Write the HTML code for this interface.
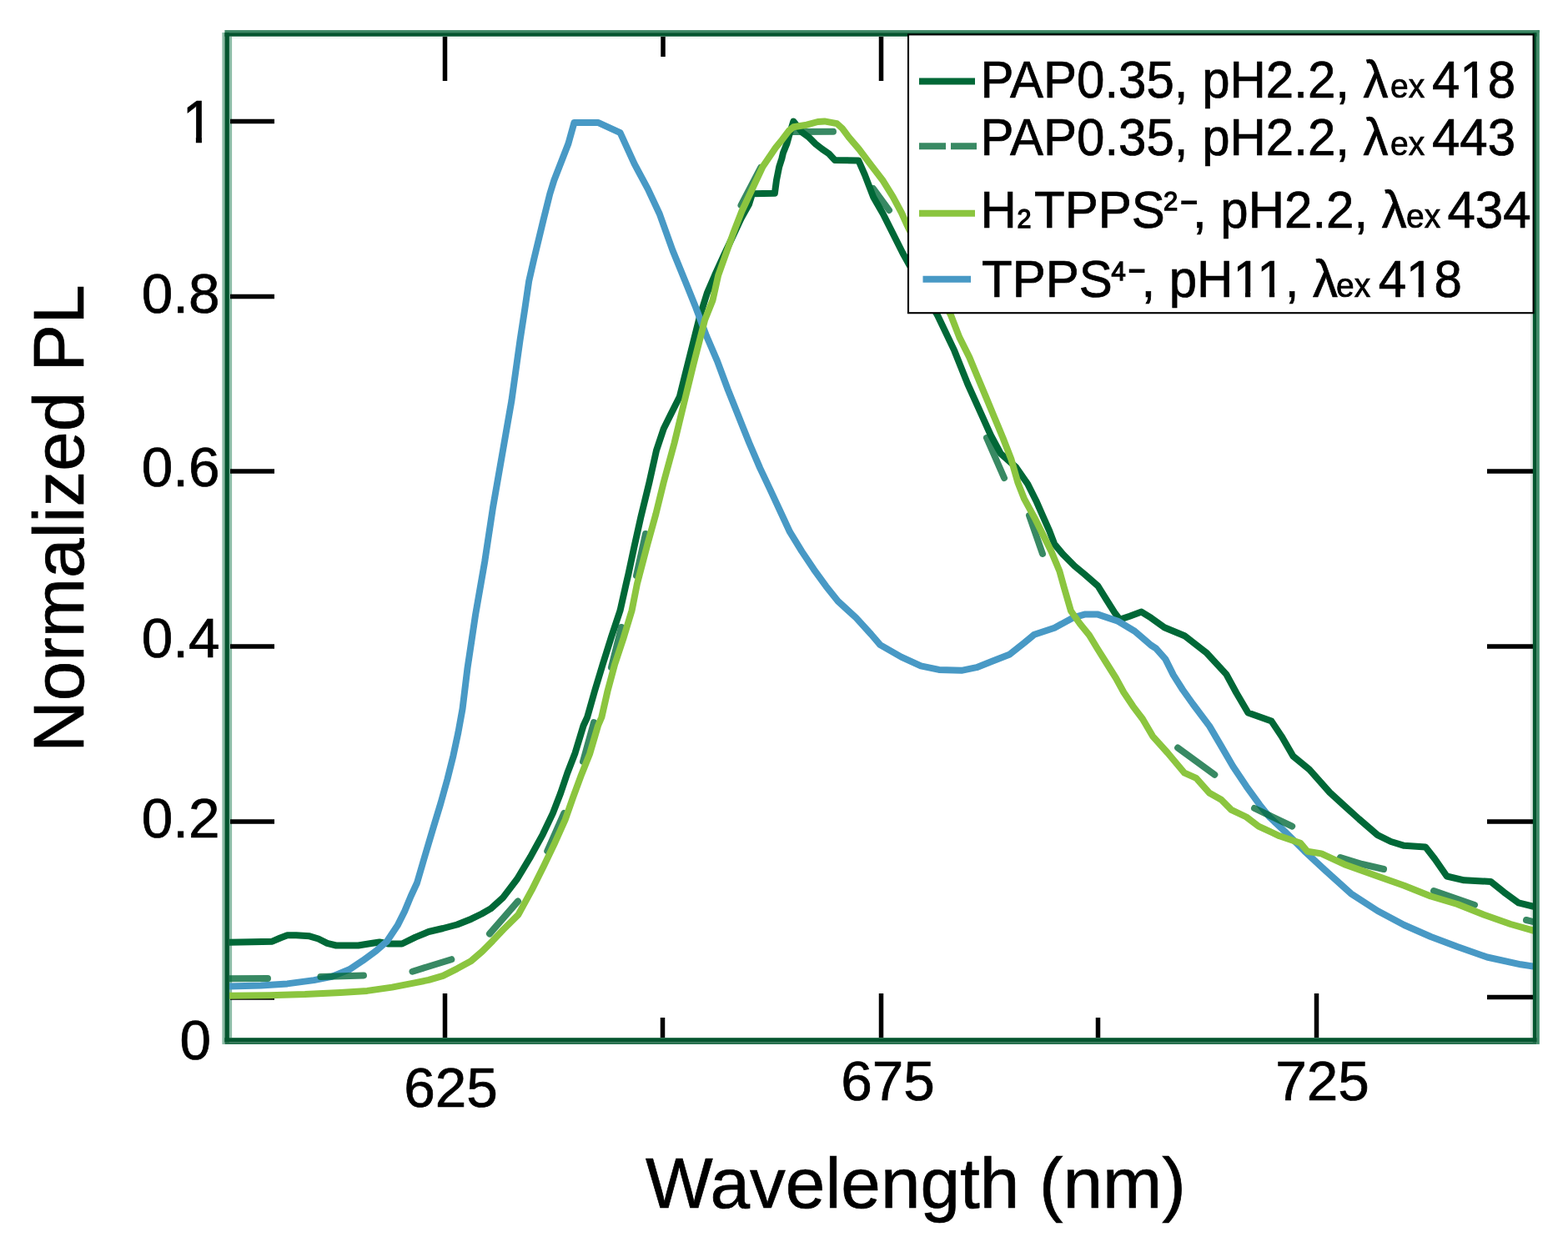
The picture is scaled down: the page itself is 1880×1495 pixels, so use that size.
<!DOCTYPE html>
<html><head><meta charset="utf-8"><title>Normalized PL vs Wavelength</title>
<style>
html,body{margin:0;padding:0;background:#fff;overflow:hidden;}
svg{display:block;filter:blur(0.45px);}
text{font-family:"Liberation Sans",Arial,sans-serif;fill:#000;stroke:#000;stroke-width:0.7px;}
</style></head>
<body>
<svg width="1880" height="1495" viewBox="0 0 1880 1495">
<defs>
<clipPath id="plot"><rect x="275" y="43.5" width="1563" height="1201"/></clipPath>
<clipPath id="cL2"><rect x="-3000.00" y="-3000.00" width="6000.00" height="2994.08"/><rect x="-3000.00" y="2.00" width="6000.00" height="300.00"/><rect x="-3000.00" y="-5.92" width="3036.95" height="7.92"/><rect x="47.93" y="-5.92" width="6.24" height="7.92"/><rect x="65.15" y="-5.92" width="2934.85" height="7.92"/></clipPath>
<clipPath id="cL17"><rect x="-3000.00" y="-3000.00" width="6000.00" height="2994.08"/><rect x="-3000.00" y="2.00" width="6000.00" height="300.00"/><rect x="-3000.00" y="-5.92" width="3113.61" height="7.92"/><rect x="124.59" y="-5.92" width="6.24" height="7.92"/><rect x="141.81" y="-5.92" width="0.71" height="7.92"/><rect x="153.50" y="-5.92" width="6.24" height="7.92"/><rect x="170.72" y="-5.92" width="2829.28" height="7.92"/></clipPath>
<clipPath id="cL19"><rect x="-3000.00" y="-3000.00" width="6000.00" height="2994.08"/><rect x="-3000.00" y="2.00" width="6000.00" height="300.00"/><rect x="-3000.00" y="-5.92" width="3036.95" height="7.92"/><rect x="47.93" y="-5.92" width="6.24" height="7.92"/><rect x="65.15" y="-5.92" width="2934.85" height="7.92"/></clipPath>
<clipPath id="cY0"><rect x="-3000.00" y="-3000.00" width="6000.00" height="2993.39"/><rect x="-3000.00" y="2.00" width="6000.00" height="300.00"/><rect x="-3000.00" y="-6.61" width="3004.05" height="8.61"/><rect x="16.40" y="-6.61" width="7.02" height="8.61"/><rect x="35.77" y="-6.61" width="2964.22" height="8.61"/></clipPath>
</defs>
<rect x="0" y="0" width="1880" height="1495" fill="#fff"/>
<!-- frame halo -->
<g fill="#8cbca6">
<rect x="266.4" y="39" width="3" height="1213"/>
<rect x="274.9" y="43.7" width="3.2" height="1200.5"/>
</g>
<rect x="1835" y="43.7" width="2.8" height="1200.5" fill="#dfe5e2"/>
<rect x="278" y="43.7" width="1557" height="2.5" fill="#eef4f1"/>
<g stroke="#000" stroke-width="5.5" fill="none">
<path d="M276 145.5H329M276 355.5H329M276 565H329M276 775H329M276 985H329M276 1196H329"/>
<path d="M1783 565H1838M1783 775H1838M1783 985H1838M1783 1195.5H1838"/>
<path d="M533.5 44V97M1056.5 44V97M795 44V68M1317.5 44V68"/>
<path d="M533.5 1244V1191M1056.5 1244V1191M1578.5 1244V1191M794.5 1244V1220M1316.5 1244V1220"/>
</g>
<g clip-path="url(#plot)" fill="none" stroke-linejoin="round" stroke-linecap="round" stroke-width="8">
<polyline stroke="#006837" points="270.0,1129.8 301.9,1129.3 326.4,1128.7 336.0,1124.5 344.5,1121.3 355.1,1121.3 371.1,1122.3 381.7,1125.5 392.3,1130.9 403.0,1133.5 429.6,1133.5 445.0,1131.0 455.0,1129.5 466.0,1131.5 482.0,1131.5 498.0,1123.6 514.0,1117.0 531.1,1113.0 548.1,1108.5 565.1,1101.7 577.7,1095.5 588.3,1089.4 602.7,1076.6 620.1,1053.8 636.1,1027.1 650.8,1000.3 662.9,974.9 672.2,950.8 680.3,926.8 689.6,902.7 699.5,870.0 704.1,860.0 713.0,828.5 722.7,796.4 732.8,764.2 743.5,732.1 750.7,700.0 753.5,688.0 760.3,656.2 768.3,620.1 778.5,578.3 787.1,539.7 795.7,514.0 804.2,496.9 814.9,475.5 821.3,449.8 829.9,415.6 838.5,381.3 847.8,351.4 857.0,330.0 867.5,307.0 875.5,290.0 888.5,262.0 898.0,245.0 902.0,232.3 928.9,231.8 931.0,216.0 934.2,200.0 937.4,190.0 939.0,183.2 943.3,172.6 946.0,163.0 951.3,145.6 961.9,158.7 969.9,164.6 977.9,172.6 985.9,178.9 993.8,184.3 1001.0,192.0 1029.4,192.5 1036.8,209.4 1047.0,235.9 1058.8,256.5 1070.6,280.0 1082.4,303.5 1124.2,378.3 1144.3,420.4 1160.3,460.5 1178.4,500.7 1188.0,522.0 1200.0,544.1 1218.1,560.1 1232.2,580.2 1242.2,600.2 1250.2,618.3 1258.2,636.3 1264.3,652.4 1274.3,664.4 1288.3,678.5 1300.4,688.5 1316.4,702.5 1326.4,718.6 1336.5,734.6 1342.5,742.7 1354.5,738.7 1368.6,733.6 1380.0,740.7 1396.1,752.2 1420.2,762.2 1446.2,782.3 1470.3,808.4 1482.3,830.5 1496.4,854.5 1524.5,864.6 1536.5,882.6 1550.5,906.7 1570.0,922.7 1594.3,950.0 1611.8,966.0 1629.4,981.9 1651.7,1001.1 1667.7,1009.0 1683.6,1013.8 1709.1,1015.4 1720.3,1029.8 1734.7,1050.5 1755.4,1055.3 1787.3,1056.9 1803.3,1069.7 1820.8,1082.4 1845.0,1088.5"/>
<polyline stroke="#4899c5" points="270.0,1182.7 312.6,1181.5 344.5,1179.4 376.4,1175.1 397.7,1170.9 418.9,1162.3 434.9,1151.7 450.9,1140.0 463.8,1128.7 476.6,1109.6 485.1,1092.6 492.6,1074.5 500.0,1058.5 508.3,1030.0 518.4,996.0 528.4,963.0 536.4,934.3 543.4,906.2 549.4,878.1 554.5,850.0 560.5,801.0 570.1,736.9 581.3,672.7 591.0,608.5 602.2,544.4 613.4,480.2 623.5,408.0 629.2,370.9 634.2,336.8 640.2,310.7 651.3,264.5 659.3,232.4 664.3,216.3 681.4,172.2 688.4,147.1 717.5,147.1 743.6,159.1 760.6,196.3 776.7,226.4 790.8,256.5 806.4,300.0 821.3,336.4 834.2,368.5 847.0,402.7 859.9,432.7 872.7,467.0 885.5,499.1 898.4,531.2 911.2,561.1 923.5,587.1 936.1,614.2 947.0,637.7 961.4,661.1 975.9,682.8 990.3,702.7 1004.7,720.7 1026.4,740.6 1044.5,760.5 1055.3,773.1 1080.6,787.6 1104.1,798.4 1125.8,802.9 1152.8,803.8 1170.9,800.2 1189.0,793.0 1210.1,784.8 1228.1,770.7 1240.2,760.7 1264.3,752.7 1286.3,740.7 1300.4,736.6 1316.4,736.6 1340.5,744.7 1360.5,756.7 1380.0,773.5 1386.0,777.3 1397.3,790.1 1406.9,809.4 1418.1,827.0 1430.2,844.0 1450.2,870.6 1464.3,894.6 1478.3,918.7 1494.4,942.8 1510.4,964.9 1522.5,979.9 1540.0,996.3 1563.9,1020.2 1587.9,1042.5 1619.8,1071.3 1651.7,1092.0 1683.6,1109.0 1715.5,1123.0 1747.4,1135.0 1783.0,1147.5 1823.4,1156.3 1845.0,1159.5"/>
<path stroke="#006837" stroke-opacity="0.78" d="M262.0,1173.4 L321.0,1173.0 M384.4,1171.0 L436.0,1169.5 M494.5,1164.7 L541.3,1150.2 M587.0,1119.5 L621.0,1080.5 M656.2,1020.4 L676.3,974.9 M699.0,913.0 L712.0,866.0 M733.0,800.0 L745.0,752.0 M763.0,690.0 L774.0,640.0 M888.5,246.0 L912.0,201.0 M950.0,158.0 L999.0,157.8 M1047.0,226.0 L1066.0,252.0 M1183.0,525.0 L1204.0,573.0 M1234.0,618.0 L1250.0,664.0 M1412.1,896.6 L1456.3,928.7 M1504.0,969.0 L1549.2,990.6 M1607.0,1028.0 L1633.0,1036.0 L1659.0,1042.0 M1719.0,1068.0 L1768.0,1085.0 M1830.0,1103.0 L1850.0,1108.0"/>
<polyline stroke="#8bc53f" points="270.0,1193.7 323.2,1193.2 365.7,1192.1 408.3,1190.0 440.2,1187.9 470.0,1183.6 497.0,1178.3 514.0,1174.9 531.1,1169.8 548.1,1161.3 565.1,1151.9 577.9,1140.9 590.6,1128.1 603.4,1114.5 621.4,1096.7 637.5,1067.2 652.2,1037.8 665.6,1009.7 677.6,982.9 687.0,956.2 696.3,930.8 707.0,904.0 717.0,870.0 721.3,860.0 728.5,828.5 737.1,796.4 747.8,764.2 757.5,732.1 763.9,700.0 766.5,690.0 776.4,652.2 786.4,616.1 795.7,578.3 808.5,531.2 819.9,484.1 831.4,437.1 845.1,383.5 854.5,360.0 861.2,330.0 869.4,307.0 879.0,280.0 889.3,253.5 897.5,236.0 904.3,221.5 914.4,200.0 930.0,177.0 938.0,167.2 946.0,156.6 951.3,152.3 967.2,149.7 980.5,146.0 988.5,145.4 1003.4,148.1 1009.8,153.9 1017.8,164.6 1030.0,178.9 1044.1,197.6 1058.8,216.8 1070.6,235.9 1080.9,255.0 1086.8,268.2 1140.2,378.3 1150.3,404.4 1162.3,428.4 1172.3,452.5 1182.4,476.6 1192.4,500.7 1202.4,524.7 1212.5,550.8 1220.5,578.9 1228.1,598.2 1240.2,620.3 1250.2,640.4 1260.2,660.4 1270.3,684.5 1276.0,705.0 1284.0,732.5 1295.0,748.0 1306.0,761.5 1316.0,778.0 1327.0,795.5 1338.0,813.0 1347.3,830.0 1358.5,846.8 1370.0,862.0 1382.0,882.6 1400.1,902.7 1420.2,926.7 1434.2,932.8 1450.2,950.8 1464.3,958.8 1476.3,970.9 1494.4,979.5 1509.0,990.6 1534.1,1002.3 1559.2,1010.7 1567.6,1020.7 1584.3,1023.4 1611.8,1036.2 1651.7,1050.5 1683.6,1061.7 1715.5,1074.5 1747.4,1084.0 1779.4,1096.8 1811.3,1108.0 1845.0,1117.5"/>
</g>
<!-- frame -->
<g fill="#05552f">
<rect x="269.4" y="39.1" width="5.5" height="1210.5"/>
<rect x="269.4" y="39.1" width="1573.3" height="4.6"/>
<rect x="1837.8" y="39.1" width="4.9" height="1210.5"/>
<rect x="269.4" y="1244.2" width="1573.3" height="5.4"/>
</g>
<rect x="269.4" y="36.1" width="1576.4" height="3" fill="#3d8865"/>
<rect x="1842.7" y="36.1" width="3.1" height="1215.8" fill="#3f8a68"/>
<rect x="269.4" y="1249.6" width="1573.3" height="2.3" fill="#1d6b47"/>
<!-- legend -->
<rect x="1089" y="41.4" width="749.6" height="333.8" fill="#fff" stroke="#000" stroke-width="2.1"/>
<g stroke-width="8" fill="none">
<path d="M1102 97.5H1169" stroke="#006837"/>
<path d="M1102 175.3H1134M1140 175.3H1171" stroke="#006837" stroke-opacity="0.78"/>
<path d="M1102 255.7H1169" stroke="#8bc53f"/>
<path d="M1106.5 334.8H1164" stroke="#4899c5"/>
</g>
<text id="L0" transform="translate(1175.5 117) scale(1 1.035)" font-size="60">PAP0.35, pH2.2, λ</text>
<text id="L1" transform="translate(1667 117) scale(1 1.035)" font-size="39">ex</text>
<text id="L2" transform="translate(1717 117) scale(1 1.035)" font-size="60" clip-path="url(#cL2)">418</text>
<text id="L3" transform="translate(1175.5 185.5) scale(1 1.035)" font-size="60">PAP0.35, pH2.2, λ</text>
<text id="L4" transform="translate(1667 185.5) scale(1 1.035)" font-size="39">ex</text>
<text id="L5" transform="translate(1717 185.5) scale(1 1.035)" font-size="60">443</text>
<text id="L6" transform="translate(1175.5 273) scale(1 1.035)" font-size="60">H</text>
<text id="L7" transform="translate(1219.5 273) scale(1 1.035)" font-size="30.5" style="stroke-width:1.3px">2</text>
<text id="L8" transform="translate(1240 273) scale(1 1.035)" font-size="60">TPPS</text>
<text id="L9" transform="translate(1395 252.4) scale(1 1.035)" font-size="31" style="stroke-width:1.3px">2</text>
<text id="L10" transform="translate(1415.3 254.9) scale(1 1.035)" font-size="35" style="stroke-width:1.7px">−</text>
<text id="L11" transform="translate(1430 273) scale(1 1.035)" font-size="60">, pH2.2, λ</text>
<text id="L12" transform="translate(1686 273) scale(1 1.035)" font-size="39">ex</text>
<text id="L13" transform="translate(1735.5 273) scale(1 1.035)" font-size="60">434</text>
<text id="L14" transform="translate(1177 355.5) scale(1 1.035)" font-size="60">TPPS</text>
<text id="L15" transform="translate(1332.5 335.5) scale(1 1.035)" font-size="31" style="stroke-width:1.3px">4</text>
<text id="L16" transform="translate(1352.8 337.1) scale(1 1.035)" font-size="35" style="stroke-width:1.7px">−</text>
<text id="L17" transform="translate(1368.4 355.5) scale(1 1.035)" font-size="60" clip-path="url(#cL17)">, pH11, λ</text>
<text id="L18" transform="translate(1602 355.5) scale(1 1.035)" font-size="39">ex</text>
<text id="L19" transform="translate(1652.7 355.5) scale(1 1.035)" font-size="60" clip-path="url(#cL19)">418</text>
<text id="Y0" transform="translate(218.5 170.5) scale(1 1.07)" font-size="67.5" text-anchor="start" clip-path="url(#cY0)">1</text>
<text id="Y1" transform="translate(263.5 375)" font-size="67.5" text-anchor="end">0.8</text>
<text id="Y2" transform="translate(263.5 582.5)" font-size="67.5" text-anchor="end">0.6</text>
<text id="Y3" transform="translate(263.5 787.5)" font-size="67.5" text-anchor="end">0.4</text>
<text id="Y4" transform="translate(263.5 1003.5)" font-size="67.5" text-anchor="end">0.2</text>
<text id="Y5" transform="translate(253 1270)" font-size="67.5" text-anchor="end">0</text>
<text id="X0" transform="translate(540.5 1327)" font-size="67.5" text-anchor="middle">625</text>
<text id="X1" transform="translate(1064.5 1318.5)" font-size="67.5" text-anchor="middle">675</text>
<text id="X2" transform="translate(1585.5 1318.5)" font-size="67.5" text-anchor="middle">725</text>
<text id="XT" transform="translate(774 1448) scale(1 1.0)" font-size="85.5">Wavelength (nm)</text>
<text id="YT" transform="translate(100.4 902) rotate(-90) scale(1 1.0)" font-size="85.5">Normalized PL</text>
</svg>
</body></html>
